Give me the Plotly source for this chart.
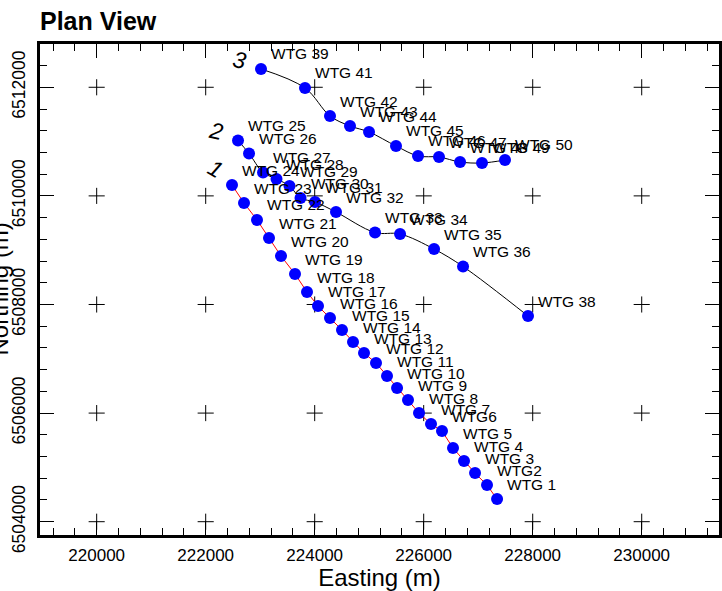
import plotly.graph_objects as go

# ---------------- data (metres) ----------------
row1_names = ["WTG 1", "WTG2", "WTG 3", "WTG 4", "WTG 5", "WTG6", "WTG 7", "WTG 8",
              "WTG 9", "WTG 10", "WTG 11", "WTG 12", "WTG 13", "WTG 14", "WTG 15",
              "WTG 16", "WTG 17", "WTG 18", "WTG 19", "WTG 20", "WTG 21", "WTG 22",
              "WTG 23", "WTG 24"]
row1_east = [227346, 227162, 226942, 226740, 226538, 226336, 226134, 225914,
             225712, 225511, 225327, 225125, 224905, 224703, 224501, 224281,
             224061, 223859, 223639, 223382, 223162, 222942, 222703, 222483]
row1_north = [6504416, 6504674, 6504895, 6505116, 6505356, 6505669, 6505798, 6506001,
              6506240, 6506461, 6506682, 6506922, 6507106, 6507308, 6507529, 6507750,
              6507972, 6508229, 6508561, 6508893, 6509224, 6509556, 6509869, 6510200]

row2_names = ["WTG 25", "WTG 26", "WTG 27", "WTG 28", "WTG 29", "WTG 30", "WTG 31",
              "WTG 32", "WTG 33", "WTG 34", "WTG 35", "WTG 36", "WTG 38"]
row2_east = [222593, 222795, 223052, 223299, 223538, 223740, 224006,
             224391, 225107, 225566, 226190, 226722, 227914]
row2_north = [6511020, 6510781, 6510431, 6510311, 6510182, 6509961, 6509887,
              6509703, 6509325, 6509298, 6509021, 6508699, 6507787]

row3_names = ["WTG 39", "WTG 41", "WTG 42", "WTG 43", "WTG 44", "WTG 45",
              "WTG 46", "WTG 47", "WTG 48", "WTG 49", "WTG 50"]
row3_east = [223015, 223822, 224281, 224648, 224997, 225492,
             225896, 226281, 226667, 227070, 227492]
row3_north = [6512337, 6511987, 6511471, 6511287, 6511177, 6510919,
              6510735, 6510716, 6510624, 6510606, 6510661]

row_labels = ["1", "2", "3"]
row_label_east = [222189, 222198, 222620]
row_label_north = [6510495, 6511186, 6512494]

x_ticks = [220000, 222000, 224000, 226000, 228000, 230000]
y_ticks = [6504000, 6506000, 6508000, 6510000, 6512000]

FONT = "Liberation Sans, Arial, Helvetica, sans-serif"

fig = go.Figure()

# grid crosses
cx = [x for x in x_ticks for _ in y_ticks]
cy = [y for _ in x_ticks for y in y_ticks]
fig.add_trace(go.Scatter(x=cx, y=cy, mode="markers", hoverinfo="skip",
                         marker=dict(symbol="cross-thin", size=11.5,
                                     line=dict(width=1, color="black"))))

# lines
fig.add_trace(go.Scatter(x=row1_east, y=row1_north, mode="lines",
                         line=dict(color="red", width=1)))
fig.add_trace(go.Scatter(x=row2_east, y=row2_north, mode="lines",
                         line=dict(color="black", width=1, shape="spline", smoothing=1)))
fig.add_trace(go.Scatter(x=row3_east, y=row3_north, mode="lines",
                         line=dict(color="black", width=1, shape="spline", smoothing=1)))

# turbines
for xs, ys in [(row1_east, row1_north), (row2_east, row2_north), (row3_east, row3_north)]:
    fig.add_trace(go.Scatter(x=xs, y=ys, mode="markers",
                             marker=dict(color="#0000ff", size=12, line=dict(width=0))))

annotations = []
for names, xs, ys in [(row1_names, row1_east, row1_north),
                      (row2_names, row2_east, row2_north),
                      (row3_names, row3_east, row3_north)]:
    for n, x, y in zip(names, xs, ys):
        annotations.append(dict(x=x, y=y, text=n, showarrow=False, xanchor="left",
                                yanchor="middle", xshift=8, yshift=15,
                                font=dict(family=FONT, size=15.5, color="black")))
for t, x, y in zip(row_labels, row_label_east, row_label_north):
    annotations.append(dict(x=x, y=y, text="<i>" + t + "</i>", showarrow=False,
                            xanchor="center", yanchor="middle",
                            textangle=30 if t == "1" else 12,
                            font=dict(family=FONT, size=23, color="black")))

# y-axis title (partly outside the page on the left, as in the reference)
annotations.append(dict(text="Northing (m)", xref="paper", yref="paper",
                        x=(-1 - 40) / 679, y=0.5, xanchor="center", yanchor="middle",
                        textangle=-90, showarrow=False,
                        font=dict(family=FONT, size=24, color="black")))

axis_common = dict(
    showline=True, linewidth=3, linecolor="black", mirror="allticks",
    ticks="inside", ticklen=14, tickwidth=1, tickcolor="black",
    showgrid=False, zeroline=False, automargin=False,
    minor=dict(ticks="inside", ticklen=7, tickwidth=1, tickcolor="black", dtick=400, showgrid=False),
)

fig.update_layout(
    width=722, height=591,
    margin=dict(l=40, r=3, t=44, b=56),
    paper_bgcolor="white", plot_bgcolor="white",
    showlegend=False,
    font=dict(family=FONT, color="black"),
    title=dict(text="<b>Plan View</b>", x=40 / 722, xanchor="left", xref="container",
               y=1 - 21 / 591, yanchor="middle", yref="container",
               font=dict(family=FONT, size=25, color="black")),
    xaxis=dict(range=[218960, 231418], tickmode="array", tickvals=x_ticks,
               ticktext=[str(v) for v in x_ticks], ticklabelstandoff=3,
               tickfont=dict(size=17), title=dict(text="Easting (m)", font=dict(size=24), standoff=2),
               **axis_common),
    yaxis=dict(range=[6503755, 6512797], tickmode="array", tickvals=y_ticks,
               ticktext=[str(v) for v in y_ticks], tickangle=-90, ticklabelstandoff=5,
               tickfont=dict(size=17.5), title=dict(text=""),
               **axis_common),
    annotations=annotations,
)

fig.write_html("out.html")
